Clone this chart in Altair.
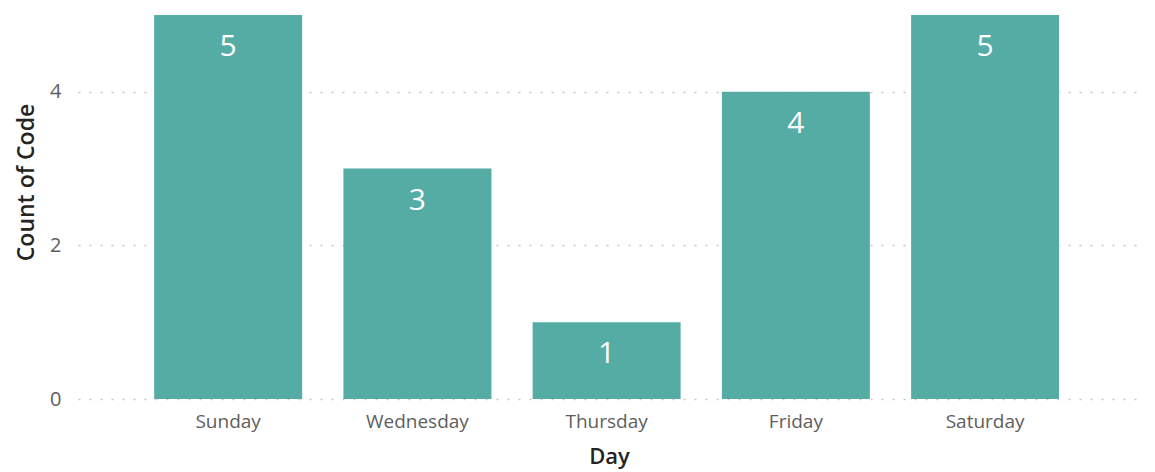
import altair as alt
import pandas as pd

days = ["Sunday", "Wednesday", "Thursday", "Friday", "Saturday"]
counts = [5, 3, 1, 4, 5]

df = pd.DataFrame({"Day": days, "Count": counts})

FONT = "Open Sans"

x = alt.X(
    "Day:N",
    sort=days,
    title="Day",
    scale=alt.Scale(paddingInner=0.218, paddingOuter=0.415, align=0.485),
    axis=alt.Axis(
        labelAngle=0,
        labelFont=FONT,
        labelFontSize=19,
        labelColor="#605E5C",
        labelPadding=13,
        ticks=False,
        domain=False,
        titleFont=FONT,
        titleFontSize=22,
        titleFontWeight=600,
        titleColor="#252423",
        titlePadding=15,
    ),
)

y = alt.Y(
    "Count:Q",
    title="Count of Code",
    scale=alt.Scale(domain=[0, 5], nice=False),
    axis=alt.Axis(
        values=[0, 2, 4],
        format="d",
        labelFont=FONT,
        labelFontSize=20,
        labelColor="#605E5C",
        labelPadding=17,
        ticks=False,
        domain=False,
        grid=True,
        gridDash=[2, 9],
        gridColor="#C8C6C4",
        gridWidth=1.5,
        titleFont=FONT,
        titleFontSize=23,
        titleFontWeight=600,
        titleColor="#252423",
        titleAngle=-90,
        titleX=-52,
        titleY=167,
        titleAlign="center",
        titleBaseline="middle",
    ),
)

bars = alt.Chart(df).mark_bar(color="#55ACA4").encode(x=x, y=y)

labels = alt.Chart(df).mark_text(
    color="white", font=FONT, fontSize=30, baseline="middle", dy=32
).encode(x=alt.X("Day:N", sort=days), y=alt.Y("Count:Q"), text="Count:Q")

chart = (
    alt.layer(bars, labels)
    .properties(
        width=1062,
        height=384,
        autosize=alt.AutoSizeParams(type="none"),
        padding={"left": 70, "top": 7, "right": 5, "bottom": 70},
    )
    .configure_view(stroke=None)
)

chart.save("out.html", embed_options={"renderer": "svg", "actions": False})
